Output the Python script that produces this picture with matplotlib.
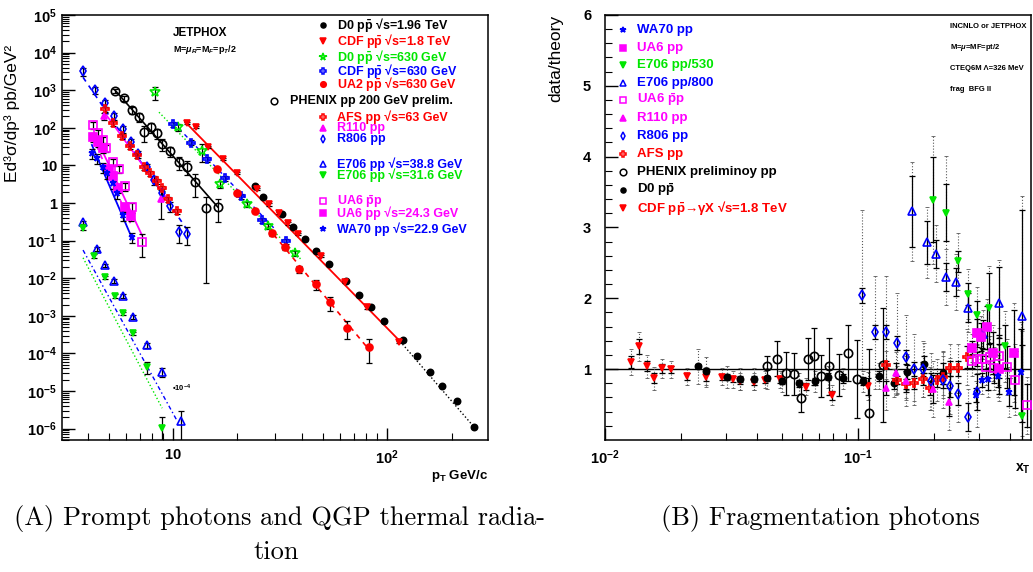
import numpy as np
import matplotlib
matplotlib.use("Agg")
import matplotlib.pyplot as plt
from matplotlib.ticker import FixedLocator, NullFormatter

plt.rcParams['font.family'] = ['Liberation Sans', 'DejaVu Sans']
plt.rcParams['font.weight'] = 'bold'
plt.rcParams['mathtext.fontset'] = 'custom'
plt.rcParams['mathtext.rm'] = 'Liberation Sans:bold'
plt.rcParams['mathtext.bf'] = 'Liberation Sans:bold'
plt.rcParams['mathtext.it'] = 'Liberation Sans:bold:italic'

# ---------------- left panel : spectra (pT in GeV/c, Ed3s/dp3 in pb/GeV2)
d0_196_x = [24.2, 26.4, 32.3, 36.4, 41.4, 46.6, 53.6, 64.3, 73.9, 84.1, 96.8, 119, 138, 159, 181, 212, 255]
d0_196_y = [2.8, 1.45, 0.51, 0.23, 0.11, 0.053, 0.024, 0.0085, 0.0036, 0.0017, 7.2e-4, 2.3e-4, 8.5e-5, 3.2e-5, 1.36e-5, 5.4e-6, 1.1e-6]
d0_196_e = [0.05] * 17

cdf18_x = [11.6, 12.8, 14.6, 17.1, 19.9, 24.7, 28.1, 31.3, 34.5, 38.4, 49.2, 63.7, 80.7, 114]
cdf18_y = [135, 105, 31, 14.8, 6.3, 2.35, 0.93, 0.54, 0.29, 0.15, 0.039, 0.0079, 0.0017, 2.0e-4]
cdf18_e = [0.08] * 14

d0_630_x = [8.24, 10.5, 13.7, 16.6, 22.2, 27.8, 37.2]
d0_630_y = [890, 105, 24, 3.2, 0.93, 0.245, 0.047]
d0_630_e = [0.4, 0.2, 0.5, 0.2, 0.15, 0.15, 0.15]

cdf630_x = [10, 12.1, 14.4, 17.5, 20.8, 26.1, 33.7]
cdf630_y = [126, 40, 14.8, 4.6, 1.55, 0.355, 0.098]
cdf630_e = [0.15] * 7

ua2_x = [16.1, 19.9, 24.2, 29, 33.4, 38.8, 46.6, 54.2, 65, 82.4]
ua2_y = [8.0, 1.85, 0.62, 0.16, 0.067, 0.0176, 0.0070, 0.0023, 4.8e-4, 1.49e-4]
ua2_e = [0.1, 0.1, 0.1, 0.15, 0.15, 0.2, 0.3, 0.4, 0.5, 0.62]

phenix_x = [5.36, 5.9, 6.43, 6.93, 7.31, 7.89, 8.41, 8.89, 9.68, 10.67, 11.6, 12.7, 14.3, 16.2]
phenix_y = [950, 620, 296, 194, 78, 106, 73, 37, 24, 12.3, 9.1, 3.6, 0.74, 0.78]
phenix_e = [0.1, 0.15, 0.2, 0.25, 0.45, 0.3, 0.3, 0.35, 0.3, 0.4, 0.4, 0.6, 0.99, 0.6]

afs_x = [4.81, 5.25, 5.78, 6.31, 6.79, 7.31, 7.81, 8.41, 8.89, 9.48, 10.4]
afs_y = [316, 135, 60, 33, 19, 9.1, 6.3, 3.85, 2.5, 1.28, 0.61]
afs_e = [0.15] * 11

r110_x = [4.76, 8.79]
r110_y = [205, 1.28]
r110_e = [0.2, 0.7]

r806_x = [3.8, 4.32, 4.81, 5.3, 5.83, 6.36, 6.86, 7.57, 8.15, 8.89, 9.68, 10.7, 11.6]
r806_y = [3200, 1000, 450, 205, 93, 42, 20, 9.1, 4.1, 1.85, 0.83, 0.17, 0.15]
r806_e = [0.25, 0.2, 0.2, 0.2, 0.2, 0.2, 0.2, 0.2, 0.25, 0.3, 0.3, 0.5, 0.5]

e706_388_x = [3.8, 4.42, 4.81, 5.3, 5.83, 6.5, 7.57, 8.89, 10.9]
e706_388_y = [0.31, 0.06, 0.0224, 0.0085, 0.0034, 9.3e-4, 1.66e-4, 3.2e-5, 1.6e-6]
e706_388_e = [0.1, 0.1, 0.1, 0.1, 0.1, 0.1, 0.15, 0.25, 0.9]

e706_316_x = [3.8, 4.28, 4.81, 5.36, 5.83, 6.5, 7.57, 8.89]
e706_316_y = [0.216, 0.039, 0.0107, 0.0034, 0.00118, 3.4e-4, 4.4e-5, 1.05e-6]
e706_316_e = [0.1, 0.1, 0.1, 0.1, 0.1, 0.1, 0.35, 0.95]

ua6pbp_x = [4.23, 4.47, 4.71, 4.86, 5.25, 5.6, 5.97, 6.43, 7.16]
ua6pbp_y = [117, 73, 48, 29, 12.3, 8.0, 2.8, 0.78, 0.091]
ua6pbp_e = [0.2, 0.2, 0.2, 0.2, 0.2, 0.2, 0.25, 0.3, 0.6]

ua6pp_x = [4.23, 4.47, 4.71, 5.03, 5.25, 5.54, 5.97, 6.36]
ua6pp_y = [57, 42, 29, 8.0, 5.2, 2.5, 0.78, 0.45]
ua6pp_e = [0.25] * 8

wa70_x = [4.18, 4.42, 4.71, 4.92, 5.25, 5.47, 5.83, 6.43]
wa70_y = [21, 15.8, 9.1, 6.3, 3.4, 1.85, 0.48, 0.125]
wa70_e = [0.3] * 8

# theory curves (start, end)
th_cdf18 = ([11.4, 115], [143, 2.1e-4])
th_d0196 = ([115, 255], [2.1e-4, 1.1e-6])
th_d0630 = ([8.6, 40], [260, 0.03])
th_cdf630 = ([10, 30], [140, 0.2])
th_ua2 = ([24, 82], [0.6, 1.3e-4])
th_phenix = ([5.36, 16.2], [1000, 0.78])
th_r806 = ([3.8, 11.6], [2200, 0.2])
th_r110 = ([4.8, 9.7], [250, 1.0])
th_wa70 = ([4.18, 6.43], [35, 0.117])
th_ua6pbp = ([4.42, 7.16], [48, 0.14])
th_ua6pp = ([4.2, 6.4], [60, 0.25])
th_e706_388 = ([3.8, 10.4], [0.056, 1.7e-6])
th_e706_316 = ([3.8, 8.9], [0.035, 3.5e-6])

PPB = r"p$\bar{\mathrm{p}}$"
PBP = r"$\bar{\mathrm{p}}$p"
left_labels = ["D0 " + PPB + " \u221as=1.96 TeV", "CDF " + PPB + " \u221as=1.8 TeV",
               "D0 " + PPB + " \u221as=630 GeV", "CDF " + PPB + " \u221as=630 GeV",
               "UA2 " + PPB + " \u221as=630 GeV", "PHENIX pp 200 GeV prelim.",
               "AFS pp \u221as=63 GeV", "R110 pp", "R806 pp",
               "E706 pp \u221as=38.8 GeV", "E706 pp \u221as=31.6 GeV",
               "UA6 " + PBP, "UA6 pp \u221as=24.3 GeV", "WA70 pp \u221as=22.9 GeV"]

# ---------------- right panel : data/theory vs xT
r_cdf_x = [0.01267, 0.01362, 0.01466, 0.01563, 0.0168, 0.01824, 0.0211, 0.02507, 0.02899, 0.03206, 0.03417, 0.0388, 0.04289, 0.0492, 0.0623, 0.0789, 0.1096]
r_cdf_y = [1.10, 1.32, 1.04, 0.87, 1.01, 1.0, 0.90, 0.89, 0.89, 0.86, 0.83, 0.82, 0.85, 0.86, 0.75, 0.63, 0.76]
r_cdf_s = [0.09, 0.1, 0.07, 0.07, 0.06, 0.05, 0.05, 0.06, 0.04, 0.04, 0.04, 0.04, 0.04, 0.05, 0.05, 0.06, 0.12]
r_cdf_t = [0.18, 0.2, 0.16, 0.16, 0.14, 0.12, 0.12, 0.14, 0.12, 0.12, 0.12, 0.12, 0.12, 0.12, 0.12, 0.14, 0.2]

r_d0_x = [0.02333, 0.02507, 0.03034, 0.03417, 0.0388, 0.04366, 0.0501, 0.0585, 0.0676, 0.0761, 0.0873, 0.1047, 0.1211, 0.1388, 0.1563, 0.1824, 0.2168]
r_d0_y = [1.04, 0.97, 0.89, 0.86, 0.86, 0.87, 0.83, 0.80, 0.83, 0.89, 0.87, 0.83, 0.90, 0.80, 0.96, 1.07, 0.94]
r_d0_s = [0.03, 0.04, 0.04, 0.04, 0.04, 0.04, 0.04, 0.05, 0.05, 0.05, 0.06, 0.06, 0.07, 0.08, 0.1, 0.12, 0.15]
r_d0_t = [0.25, 0.2, 0.15, 0.15, 0.15, 0.15, 0.15, 0.15, 0.15, 0.15, 0.15, 0.15, 0.18, 0.2, 0.25, 0.3, 0.3]

r_phx_x = [0.04366, 0.04783, 0.0519, 0.0558, 0.0595, 0.0634, 0.0670, 0.0714, 0.0768, 0.0841, 0.0913, 0.0991, 0.1105, 0.1256]
r_phx_y = [1.04, 1.15, 0.94, 0.93, 0.59, 1.14, 1.18, 0.90, 1.04, 0.92, 1.23, 0.86, 0.38, 1.06]
r_phx_s = [0.14, 0.25, 0.3, 0.3, 0.2, 0.3, 0.4, 0.3, 0.4, 0.3, 0.4, 0.55, 0.9, 0.8]

r_afs_x = [0.1291, 0.1426, 0.1549, 0.1664, 0.1807, 0.1927, 0.2051, 0.2168, 0.2312, 0.2483, 0.2698]
r_afs_y = [1.06, 0.85, 0.79, 0.80, 0.86, 0.73, 0.85, 0.89, 1.01, 1.01, 1.17]
r_afs_s = [0.05, 0.06, 0.07, 0.08, 0.08, 0.1, 0.1, 0.1, 0.1, 0.1, 0.15]
r_afs_t = [0.2, 0.2, 0.2, 0.25, 0.25, 0.3, 0.3, 0.3, 0.35, 0.35, 0.4]

r_r110_x = [0.1291, 0.1413, 0.1549, 0.1977, 0.2291]
r_r110_y = [0.73, 0.94, 0.83, 0.72, 0.54]
r_r110_s = [0.1, 0.15, 0.15, 0.2, 0.2]
r_r110_t = [0.3, 0.3, 0.35, 0.4, 0.4]

r_r806_x = [0.1037, 0.1167, 0.1291, 0.1426, 0.1549, 0.1664, 0.1807, 0.1945, 0.2168, 0.2312, 0.2483, 0.2723, 0.2953]
r_r806_y = [2.04, 1.52, 1.52, 1.37, 1.17, 1.0, 1.0, 0.83, 0.85, 0.76, 0.65, 0.32, 0.68]
r_r806_s = [0.1, 0.1, 0.1, 0.1, 0.1, 0.1, 0.1, 0.12, 0.12, 0.15, 0.15, 0.2, 0.25]
r_r806_t = [1.2, 0.8, 0.8, 0.7, 0.6, 0.5, 0.4, 0.4, 0.4, 0.4, 0.4, 0.4, 0.5]

r_e800_x = [0.1635, 0.1875, 0.2033, 0.2228, 0.2439, 0.2723, 0.3119, 0.3606, 0.4448]
r_e800_y = [3.23, 2.79, 2.63, 2.30, 2.23, 1.87, 1.49, 1.94, 1.75]
r_e800_s = [0.5, 0.3, 0.2, 0.2, 0.2, 0.2, 0.2, 0.5, 1.5]
r_e800_t = [0.7, 0.5, 0.4, 0.4, 0.4, 0.35, 0.35, 0.6, 1.7]

r_e530_x = [0.1977, 0.2228, 0.2483, 0.2723, 0.2953, 0.3296, 0.3811, 0.4448]
r_e530_y = [3.39, 3.21, 2.52, 2.06, 1.76, 1.86, 1.32, 0.34]
r_e530_s = [0.6, 0.4, 0.15, 0.15, 0.2, 0.5, 0.3, 1.0]
r_e530_t = [0.9, 0.8, 0.4, 0.35, 0.4, 0.6, 0.5, 1.2]

r_ua6pp_x = [0.2825, 0.2953, 0.3062, 0.3236, 0.3419, 0.3606, 0.4140]
r_ua6pp_y = [1.30, 1.51, 1.45, 1.59, 1.23, 1.0, 1.23]
r_ua6pp_s = [0.1, 0.2, 0.2, 0.3, 0.3, 0.35, 0.6]
r_ua6pp_t = [0.2, 0.3, 0.3, 0.4, 0.4, 0.45, 0.7]

r_ua6pbp_x = [0.2825, 0.2953, 0.3091, 0.3206, 0.3326, 0.3451, 0.3606, 0.3882, 0.4178, 0.4656]
r_ua6pbp_y = [1.11, 1.14, 1.15, 1.03, 1.17, 1.01, 1.18, 1.03, 0.85, 0.49]
r_ua6pbp_s = [0.1, 0.1, 0.15, 0.15, 0.2, 0.2, 0.3, 0.3, 0.4, 0.3]
r_ua6pbp_t = [0.2, 0.2, 0.25, 0.25, 0.3, 0.3, 0.4, 0.4, 0.5, 0.4]

r_wa70_x = [0.2924, 0.3091, 0.3266, 0.3573, 0.3954, 0.4406]
r_wa70_y = [0.63, 0.85, 0.86, 0.90, 0.68, 0.96]
r_wa70_s = [0.1, 0.1, 0.15, 0.15, 0.2, 0.6]
r_wa70_t = [0.2, 0.2, 0.25, 0.3, 0.35, 0.7]

right_labels = ["WA70 pp", "UA6 pp", "E706 pp/530", "E706 pp/800", "UA6 " + PBP,
                "R110 pp", "R806 pp", "AFS pp", "PHENIX preliminoy pp", "D0 " + PPB,
                "CDF " + PPB + "\u2192\u03b3X \u221as=1.8 TeV"]

BLUE, RED, GRN, MAG, BLK = '#0000ff', '#ff0000', '#00e600', '#ff00ff', 'black'

fig = plt.figure(figsize=(10.33, 5.72), dpi=100)
ax1 = fig.add_axes([0.060, 0.2308, 0.4124, 0.743])
ax2 = fig.add_axes([0.5857, 0.2308, 0.4123, 0.743])

# styles: (marker, color, filled, size)
sty = {
    'd0196': ('o', BLK, True, 4.5), 'cdf18': ('v', RED, True, 5), 'd0630': ('*', GRN, False, 7),
    'cdf630': ('P', BLUE, False, 6), 'ua2': ('o', RED, True, 5), 'phx': ('o', BLK, False, 6),
    'afs': ('P', RED, False, 6), 'r110': ('^', MAG, True, 5), 'r806': ('d', BLUE, False, 5),
    'e388': ('^', BLUE, False, 5.5), 'e316': ('v', GRN, True, 5), 'ua6pbp': ('s', MAG, False, 6),
    'ua6pp': ('s', MAG, True, 5.5), 'wa70': ('*', BLUE, True, 5),
}


def mk(ax, x, y, key, **kw):
    m, c, f, s = sty[key]
    ax.plot(x, y, ls='none', marker=m, ms=s, mec=c, mfc=c if f else 'none', mew=1.2, zorder=4, **kw)


def left_series(x, y, e, key):
    x = np.array(x); y = np.array(y); e = np.array(e)
    ax1.errorbar(x, y, yerr=[y * np.minimum(e, 0.99), y * e], fmt='none', ecolor='black',
                 elinewidth=0.9, capsize=2.5, capthick=0.9, zorder=3)
    mk(ax1, x, y, key)


ax1.plot(*th_cdf18, color=RED, lw=1.3)
ax1.plot(*th_d0196, color=BLK, lw=1.0, ls=':')
ax1.plot(*th_d0630, color=GRN, lw=1.0, ls=':')
ax1.plot(*th_cdf630, color=BLUE, lw=1.0, ls=(0, (3, 3)))
ax1.plot(*th_ua2, color=RED, lw=1.2, ls=(0, (3, 3)))
ax1.plot(*th_phenix, color=BLK, lw=1.2)
ax1.plot(*th_r806, color=BLUE, lw=1.2, ls=(0, (3, 3)))
ax1.plot(*th_r110, color=MAG, lw=1.2)
ax1.plot(*th_wa70, color=BLUE, lw=1.3)
ax1.plot(*th_ua6pbp, color=MAG, lw=1.3)
ax1.plot(*th_ua6pp, color=MAG, lw=1.2, ls=(0, (3, 3)))
ax1.plot(*th_e706_388, color=BLUE, lw=1.0, ls=(0, (3, 2, 1, 2)))
ax1.plot(*th_e706_316, color=GRN, lw=1.0, ls=':')

left_series(d0_196_x, d0_196_y, d0_196_e, 'd0196')
left_series(cdf18_x, cdf18_y, cdf18_e, 'cdf18')
left_series(d0_630_x, d0_630_y, d0_630_e, 'd0630')
left_series(cdf630_x, cdf630_y, cdf630_e, 'cdf630')
left_series(ua2_x, ua2_y, ua2_e, 'ua2')
left_series(phenix_x, phenix_y, phenix_e, 'phx')
left_series(r806_x, r806_y, r806_e, 'r806')
left_series(afs_x, afs_y, afs_e, 'afs')
left_series(r110_x, r110_y, r110_e, 'r110')
left_series(e706_388_x, e706_388_y, e706_388_e, 'e388')
left_series(e706_316_x, e706_316_y, e706_316_e, 'e316')
left_series(ua6pbp_x, ua6pbp_y, ua6pbp_e, 'ua6pbp')
left_series(ua6pp_x, ua6pp_y, ua6pp_e, 'ua6pp')
left_series(wa70_x, wa70_y, wa70_e, 'wa70')

ax1.set_xscale('log'); ax1.set_yscale('log')
ax1.set_xlim(3.03, 296)
ax1.set_ylim(5e-7, 1e5)

# left legend
leg_keys = ['d0196', 'cdf18', 'd0630', 'cdf630', 'ua2', 'phx', 'afs', 'r110', 'r806',
            'e388', 'e316', 'ua6pbp', 'ua6pp', 'wa70']
leg_rows = [0.976, 0.939, 0.901, 0.869, 0.838, 0.798, 0.760, 0.734, 0.708, 0.650, 0.623, 0.562, 0.533, 0.496]
for k, lab, yy in zip(leg_keys, left_labels, leg_rows):
    m, c, f, s = sty[k]
    mx, tx = (0.498, 0.535) if k == 'phx' else (0.613, 0.646)
    ax1.plot([mx], [yy], transform=ax1.transAxes, marker=m, ms=s * 0.8, mec=c,
             mfc=c if f else 'none', mew=1.1, ls='none', clip_on=False)
    ax1.text(tx, yy, lab, transform=ax1.transAxes, color=c, fontsize=9, va='center', ha='left')

ax1.text(0.261, 0.958, "JETPHOX", transform=ax1.transAxes, fontsize=8.5, va='center')
ax1.text(0.261, 0.918, r"M=$\mu_R$=M$_F$=p$_T$/2", transform=ax1.transAxes, fontsize=6.5, va='center')
ax1.text(0.258, 0.122, "\u2022" + r"10$^{-4}$", transform=ax1.transAxes, fontsize=5.5, va='center')

ax1.set_xticks([10, 100])
ax1.set_xticklabels([r"$\mathbf{10}$", r"$\mathbf{10^{2}}$"])
ax1.xaxis.set_minor_locator(FixedLocator([4, 5, 6, 7, 8, 9, 20, 30, 40, 50, 60, 70, 80, 90, 200]))
ax1.xaxis.set_minor_formatter(NullFormatter())
ydec = [10.0 ** p for p in range(-6, 6)]
ylab = [r"$\mathbf{10^{%d}}$" % p for p in range(-6, 0)] + ["1", "10"] + \
       [r"$\mathbf{10^{%d}}$" % p for p in range(2, 6)]
ax1.set_yticks(ydec)
ax1.set_yticklabels(ylab)
ax1.yaxis.set_minor_locator(FixedLocator([m * 10.0 ** p for p in range(-7, 5) for m in range(2, 10)]))
ax1.yaxis.set_minor_formatter(NullFormatter())
ax1.set_ylabel("Ed\u00b3\u03c3/dp\u00b3 pb/GeV\u00b2", fontsize=12.5, ha='right')
ax1.yaxis.set_label_coords(-0.099, 0.93)
ax1.text(1.0, -0.065, r"p$_\mathrm{T}$ GeV/c", transform=ax1.transAxes, ha='right', va='top', fontsize=9.5)

# ---------------- right panel


def right_series(x, y, s, t, key):
    if t is not None:
        eb = ax2.errorbar(x, y, yerr=t, fmt='none', ecolor='0.35', elinewidth=0.8,
                          capsize=1.5, capthick=0.6, zorder=2)
        eb[2][0].set_linestyle(':')
    ax2.errorbar(x, y, yerr=s, fmt='none', ecolor='black', elinewidth=0.9,
                 capsize=2.2, capthick=0.9, zorder=3)
    mk(ax2, x, y, key)


ax2.axhline(1, color='black', lw=1.0, zorder=1)
right_series(r_cdf_x, r_cdf_y, r_cdf_s, r_cdf_t, 'cdf18')
right_series(r_d0_x, r_d0_y, r_d0_s, r_d0_t, 'd0196')
right_series(r_phx_x, r_phx_y, r_phx_s, None, 'phx')
right_series(r_afs_x, r_afs_y, r_afs_s, r_afs_t, 'afs')
right_series(r_r110_x, r_r110_y, r_r110_s, r_r110_t, 'r110')
right_series(r_r806_x, r_r806_y, r_r806_s, r_r806_t, 'r806')
right_series(r_e800_x, r_e800_y, r_e800_s, r_e800_t, 'e388')
right_series(r_e530_x, r_e530_y, r_e530_s, r_e530_t, 'e316')
right_series(r_ua6pp_x, r_ua6pp_y, r_ua6pp_s, r_ua6pp_t, 'ua6pp')
right_series(r_ua6pbp_x, r_ua6pbp_y, r_ua6pbp_s, r_ua6pbp_t, 'ua6pbp')
right_series(r_wa70_x, r_wa70_y, r_wa70_s, r_wa70_t, 'wa70')

ax2.set_xscale('log')
ax2.set_xlim(0.01, 0.483)
ax2.set_ylim(0, 6)

rkeys = ['wa70', 'ua6pp', 'e316', 'e388', 'ua6pbp', 'r110', 'r806', 'afs', 'phx', 'd0196', 'cdf18']
rrows = [0.965, 0.923, 0.883, 0.840, 0.800, 0.758, 0.716, 0.674, 0.631, 0.589, 0.547]
for k, lab, yy in zip(rkeys, right_labels, rrows):
    m, c, f, s = sty[k]
    ax2.plot([0.042], [yy], transform=ax2.transAxes, marker=m, ms=s * 0.8, mec=c,
             mfc=c if f else 'none', mew=1.1, ls='none')
    ax2.text(0.075, yy, lab, transform=ax2.transAxes, color=c, fontsize=9.5, va='center', ha='left')

for txt, yy in zip(["INCNLO or JETPHOX", r"M=$\mu$=MF=pt/2", "CTEQ6M \u039b=326 MeV", "frag  BFG II"],
                   [0.972, 0.923, 0.873, 0.824]):
    ax2.text(0.81, yy, txt, transform=ax2.transAxes, fontsize=5.5, va='center', ha='left')

ax2.set_xticks([0.01, 0.1])
ax2.set_xticklabels([r"$\mathbf{10^{-2}}$", r"$\mathbf{10^{-1}}$"])
ax2.xaxis.set_minor_locator(FixedLocator([0.02, 0.03, 0.04, 0.05, 0.06, 0.07, 0.08, 0.09, 0.2, 0.3, 0.4]))
ax2.xaxis.set_minor_formatter(NullFormatter())
ax2.set_yticks([1, 2, 3, 4, 5, 6])
ax2.set_yticklabels(["1", "2", "3", "4", "5", "6"])
ax2.yaxis.set_minor_locator(FixedLocator(np.arange(0.2, 6, 0.2)))
ax2.set_ylabel("data/theory", fontsize=12.5, ha='right')
ax2.yaxis.set_label_coords(-0.099, 1.0)
ax2.text(1.0, -0.05, r"x$_\mathrm{T}$", transform=ax2.transAxes, ha='right', va='top', fontsize=10)

for ax in (ax1, ax2):
    ax.tick_params(which='both', direction='in', top=False, right=False, labelsize=10.5)
    ax.tick_params(which='major', length=9, width=1)
    ax.tick_params(which='minor', length=5, width=0.8)
    for sp in ax.spines.values():
        sp.set_linewidth(1.1)
ax1.tick_params(axis='x', which='major', pad=6)
ax2.tick_params(axis='x', which='major', pad=6)
ax2.tick_params(axis='y', which='major', pad=10)

cap = dict(fontfamily='cmr10', fontsize=19, ha='center', va='center', fontweight='normal')
fig.text(279 / 1033, 1 - 519 / 572, "(A) Prompt photons and QGP thermal radia-", **cap)
fig.text(276 / 1033, 1 - 552 / 572, "tion", **cap)
fig.text(820 / 1033, 1 - 519 / 572, "(B) Fragmentation photons", **cap)

fig.savefig("out.png", dpi=100)
